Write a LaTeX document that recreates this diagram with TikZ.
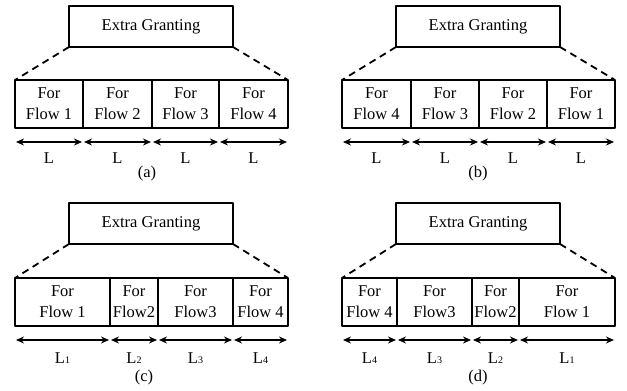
\documentclass[tikz,border=0pt]{standalone}
\usepackage{fontspec}
\setmainfont{Liberation Serif}
\usetikzlibrary{arrows.meta}
\newcommand\lsub[1]{{\fontsize{10}{10}\selectfont #1}}
\begin{document}
\begin{tikzpicture}[x=1pt,y=-1pt, line join=round, >={Stealth[length=8pt,width=7pt]},
  font=\fontsize{16.5}{21}\selectfont,
  grant/.style={draw, line width=2.2pt, minimum width=164, minimum height=41, outer sep=0},
  seg/.style={draw, line width=2.2pt, minimum height=48, align=center, outer sep=0, inner sep=0},
  dim/.style={<->, line width=1.6pt, shorten <=1pt, shorten >=1pt},
  link/.style={line width=1.8pt, dash pattern=on 7pt off 5pt}]
  \useasboundingbox (0,0) rectangle (627,391);
  % (a) equal slots, flows in order
  \node[grant] (ga) at (151,26.5) {Extra Granting};
  \foreach \n/\l/\r/\t/\d in {1/15/83/Flow 1/L,2/83/152/Flow 2/L,3/152/219/Flow 3/L,4/219/288/Flow 4/L}{
    \node[seg, minimum width=\r-\l] (a\n) at ({(\l+\r)/2},104) {For\\\t};
    \draw[dim] ([yshift=-14pt]a\n.south west) -- ([yshift=-14pt]a\n.south east);
    \node (la\n) at ({(\l+\r)/2},158) {\d};
  }
  \draw[link] (ga.south west) -- (a1.north west);
  \draw[link] (ga.south east) -- (a4.north east);
  \node (capa) at (147,174) {(a)};
  % (b) equal slots, reversed
  \node[grant] (gb) at (478,26.5) {Extra Granting};
  \foreach \n/\l/\r/\t/\d in {1/342/411/Flow 4/L,2/411/479/Flow 3/L,3/479/547/Flow 2/L,4/547/615/Flow 1/L}{
    \node[seg, minimum width=\r-\l] (b\n) at ({(\l+\r)/2},104) {For\\\t};
    \draw[dim] ([yshift=-14pt]b\n.south west) -- ([yshift=-14pt]b\n.south east);
    \node (lb\n) at ({(\l+\r)/2},158) {\d};
  }
  \draw[link] (gb.south west) -- (b1.north west);
  \draw[link] (gb.south east) -- (b4.north east);
  \node (capb) at (478,174) {(b)};
  % (c) unequal slots, flows in order
  \node[grant] (gc) at (151,223.5) {Extra Granting};
  \foreach \n/\l/\r/\t/\d in {1/15/110/Flow 1/L\lsub{1},2/110/158/Flow2/L\lsub{2},3/158/233/Flow3/L\lsub{3},4/233/288/Flow 4/L\lsub{4}}{
    \node[seg, minimum width=\r-\l] (c\n) at ({(\l+\r)/2},302) {For\\\t};
    \draw[dim] ([yshift=-14pt]c\n.south west) -- ([yshift=-14pt]c\n.south east);
    \node (lc\n) at ({(\l+\r)/2},358) {\d};
  }
  \draw[link] (gc.south west) -- (c1.north west);
  \draw[link] (gc.south east) -- (c4.north east);
  \node (capc) at (144,378) {(c)};
  % (d) unequal slots, reversed
  \node[grant] (gd) at (478,223.5) {Extra Granting};
  \foreach \n/\l/\r/\t/\d in {1/342/397/Flow 4/L\lsub{4},2/397/472/Flow3/L\lsub{3},3/472/519/Flow2/L\lsub{2},4/519/615/Flow 1/L\lsub{1}}{
    \node[seg, minimum width=\r-\l] (d\n) at ({(\l+\r)/2},302) {For\\\t};
    \draw[dim] ([yshift=-14pt]d\n.south west) -- ([yshift=-14pt]d\n.south east);
    \node (ld\n) at ({(\l+\r)/2},358) {\d};
  }
  \draw[link] (gd.south west) -- (d1.north west);
  \draw[link] (gd.south east) -- (d4.north east);
  \node (capd) at (478,378) {(d)};
\end{tikzpicture}
\end{document}
